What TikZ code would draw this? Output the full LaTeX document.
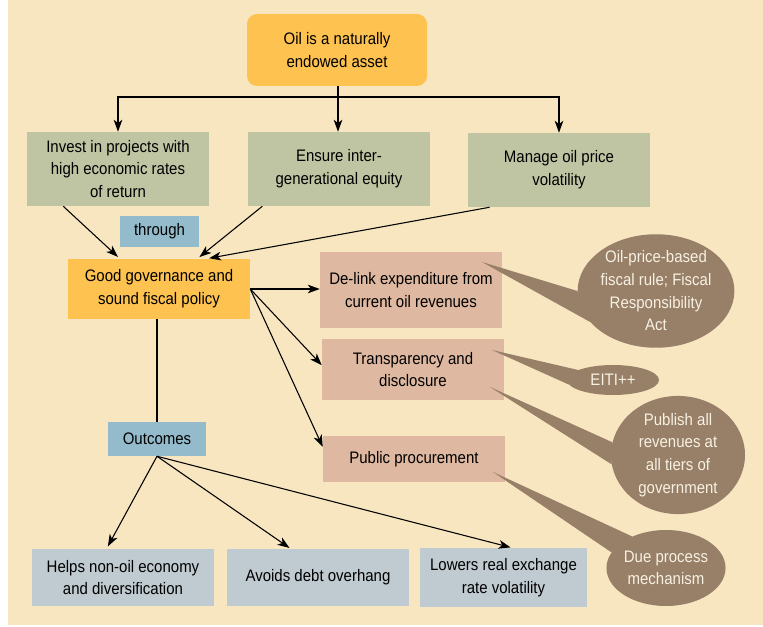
\documentclass[tikz,border=0pt]{standalone}
\usepackage{fontspec}
\setmainfont{Liberation Sans}[FakeStretch=0.9]
\usetikzlibrary{arrows.meta,shapes.geometric,calc}
\definecolor{bgc}{HTML}{F8E6C1}
\definecolor{orangec}{HTML}{FDC250}
\definecolor{greenc}{HTML}{BFC5A2}
\definecolor{bluec}{HTML}{93BBCB}
\definecolor{pinkc}{HTML}{DEB8A0}
\definecolor{grayc}{HTML}{C0CBD1}
\definecolor{bubc}{HTML}{977F68}
\definecolor{bubtext}{HTML}{F8F1E2}
\begin{document}
\begin{tikzpicture}[x=0.75pt,y=-0.75pt,
  sz/.style 2 args={minimum width=#1*0.75pt, minimum height=#2*0.75pt},
  box/.style={rectangle, inner sep=0pt, align=center, text=black,
    font=\fontsize{12.5}{17}\selectfont},
  topbox/.style={box, fill=orangec, rounded corners=7.5pt},
  govbox/.style={box, fill=orangec},
  aimbox/.style={box, fill=greenc},
  tagbox/.style={box, fill=bluec},
  actbox/.style={box, fill=pinkc},
  outbox/.style={box, fill=grayc},
  bubble/.style={ellipse, fill=bubc, inner sep=0pt, align=center, text=bubtext,
    font=\fontsize{12.5}{17}\selectfont},
  tail/.style={fill=bubc},
  conn/.style={draw=black, line width=0.8pt},
  arr/.style={conn, -{Stealth[length=9pt,width=6.5pt,inset=2.5pt]}}
]
\useasboundingbox (0,0) rectangle (763,627);
\fill[bgc] (8,0) rectangle (763,625);

% top
\node[topbox, sz={180}{72}] (top) at (337,50) {Oil is a naturally\\endowed asset};
% aims
\node[aimbox, sz={182}{74}] (inv) at (118,169) {Invest in projects with\\high economic rates\\of return};
\node[aimbox, sz={182}{74}] (ens) at (339,169) {Ensure inter-\\generational equity};
\node[aimbox, sz={182}{74}] (man) at (559,170) {Manage oil price\\volatility};
% through / governance
\node[tagbox, sz={79}{31}] (thr) at (159.5,231.5) {through};
\node[govbox, sz={182}{60}] (gov) at (159,289) {Good governance and\\sound fiscal policy};
% actions
\node[actbox, sz={182}{76}] (del) at (411,290) {De-link expenditure from\\current oil revenues};
\node[actbox, sz={182}{61}] (tra) at (413,369.5) {Transparency and\\disclosure};
\node[actbox, sz={182}{46}] (pro) at (414,459) {Public procurement};
% outcomes
\node[tagbox, sz={98}{34}] (out) at (157,439) {Outcomes};
\node[outbox, sz={182}{57}] (hel) at (123,577.5) {Helps non-oil economy\\and diversification};
\node[outbox, sz={182}{57}] (avo) at (318,577.5) {Avoids debt overhang};
\node[outbox, sz={167}{59}] (low) at (503.5,577.5) {Lowers real exchange\\rate volatility};

% bubbles
\node[bubble, sz={136}{112}] (b1) at (656,291) {Oil-price-based\\fiscal rule; Fiscal\\Responsibility\\Act};
\node[bubble, sz={92}{30}] (b2) at (613,380) {EITI++};
\node[bubble, sz={134}{110}] (b3) at (678,455) {Publish all\\revenues at\\all tiers of\\government};
\node[bubble, sz={106}{76}] (b4) at (666,568) {Due process\\mechanism};

% tails
\coordinate (t1) at (482,262);
\coordinate (t2) at (492,350);
\coordinate (t3) at (490,387);
\coordinate (t4) at (493,472);
\fill[tail] (t1) -- (b1.180) -- (b1.205) -- cycle;
\fill[tail] (t2) -- (b2.164) -- (b2.186) -- cycle;
\fill[tail] (t3) -- (b3.169) -- (b3.188) -- cycle;
\fill[tail] (t4) -- (b4.137) -- (b4.164) -- cycle;

% top connectors
\coordinate (split) at (338,97);
\draw[conn] (top.south -| split) -- (split);
\draw[arr] (split) -| (inv.north);
\draw[arr] (split) -- (split |- ens.north);
\draw[arr] (split) -| (man.north);

% into governance
\draw[arr, shorten >=2pt] ($(inv.south west)!0.2!(inv.south east)$) -- ($(gov.north west)!0.286!(gov.north east)$);
\draw[arr, shorten >=2pt] ($(ens.south west)!0.08!(ens.south east)$) -- ($(gov.north west)!0.71!(gov.north east)$);
\draw[arr, shorten >=2pt] ($(man.south west)!0.12!(man.south east)$) -- ($(gov.north west)!0.76!(gov.north east)$);

% governance to actions
\draw[arr] (gov.east) -- (gov.east -| del.west);
\draw[arr] (gov.east) -- ($(tra.north west)!0.43!(tra.south west)$);
\draw[arr] (gov.east) -- ($(pro.north west)!0.24!(pro.south west)$);

% governance to outcomes
\draw[conn] (gov.south -| out.north) -- (out.north);
\draw[arr, shorten >=2pt] (out.south) -- ($(hel.north west)!0.41!(hel.north east)$);
\draw[arr, shorten >=1pt] (out.south) -- ($(avo.north west)!0.35!(avo.north east)$);
\draw[arr, shorten >=1pt] (out.south) -- ($(low.north west)!0.55!(low.north east)$);
\end{tikzpicture}
\end{document}
